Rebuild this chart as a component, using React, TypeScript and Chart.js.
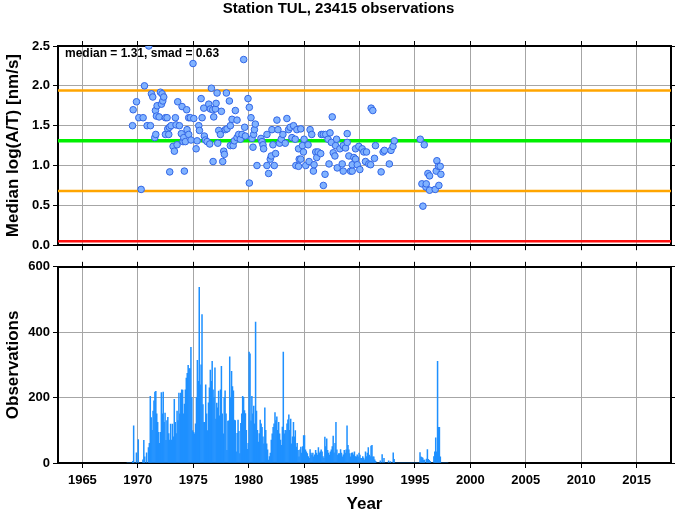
import React, { useEffect, useRef } from "react";
import { Chart, registerables } from "chart.js";

Chart.register(...registerables);

const FONT = "'Liberation Sans', Arial, Helvetica, sans-serif";
const GRID = "#a6a6a6";

const titleText = "Station TUL, 23415 observations";
const topYTitle = "Median log(A/T) [nm/s]";
const bottomYTitle = "Observations";
const xTitle = "Year";

const xMin = 1962.8;
const xMax = 2018.1;
const xTickYears = [1965, 1970, 1975, 1980, 1985, 1990, 1995, 2000, 2005, 2010, 2015];
const ampTicks = [0, 0.5, 1.0, 1.5, 2.0, 2.5];
const obsTicks = [0, 200, 400, 600];

const medianValue = 1.31;
const smadValue = 0.63;
const upperBound = 1.94;
const lowerBound = 0.68;
const floorLevel = 0.05;

const pointYears = [
  1969.52, 1969.58, 1969.88, 1970.09, 1970.3, 1970.48, 1970.6, 1970.84, 1970.99, 1971.14,
  1971.23, 1971.35, 1971.53, 1971.59, 1971.62, 1971.68, 1971.74, 1971.92, 1972.04, 1972.13,
  1972.19, 1972.25, 1972.34, 1972.49, 1972.49, 1972.64, 1972.7, 1972.79, 1972.85, 1972.88,
  1973.0, 1973.18, 1973.3, 1973.39, 1973.45, 1973.54, 1973.6, 1973.75, 1973.93, 1973.99,
  1974.08, 1974.14, 1974.2, 1974.29, 1974.41, 1974.44, 1974.59, 1974.59, 1974.74, 1974.8,
  1974.98, 1975.05, 1975.26, 1975.35, 1975.5, 1975.56, 1975.71, 1975.8, 1975.95, 1976.0,
  1976.1, 1976.25, 1976.4, 1976.49, 1976.55, 1976.64, 1976.76, 1976.79, 1976.85, 1977.0,
  1977.06, 1977.15, 1977.21, 1977.3, 1977.45, 1977.54, 1977.66, 1977.75, 1977.81, 1977.9,
  1977.99, 1978.05, 1978.26, 1978.35, 1978.35, 1978.5, 1978.6, 1978.71, 1978.8, 1978.95,
  1978.95, 1979.1, 1979.25, 1979.4, 1979.55, 1979.64, 1979.7, 1979.94, 1980.06, 1980.06,
  1980.21, 1980.3, 1980.39, 1980.45, 1980.52, 1980.6, 1980.75, 1981.11, 1981.2, 1981.29,
  1981.35, 1981.65, 1981.65, 1981.8, 1981.95, 1982.04, 1982.1, 1982.19, 1982.31, 1982.43,
  1982.55, 1982.64, 1982.79, 1982.94, 1983.09, 1983.3, 1983.45, 1983.6, 1983.75, 1983.9,
  1984.05, 1984.2, 1984.26, 1984.35, 1984.5, 1984.5, 1984.56, 1984.7, 1984.7, 1984.85,
  1984.94, 1985.0, 1985.15, 1985.36, 1985.45, 1985.54, 1985.69, 1985.84, 1985.9, 1986.05,
  1986.14, 1986.26, 1986.5, 1986.56, 1986.74, 1986.74, 1986.89, 1986.95, 1987.16, 1987.25,
  1987.34, 1987.46, 1987.54, 1987.63, 1987.78, 1987.84, 1987.93, 1987.99, 1988.23, 1988.44,
  1988.53, 1988.53, 1988.74, 1988.89, 1988.89, 1989.04, 1989.19, 1989.34, 1989.34, 1989.49,
  1989.64, 1989.64, 1989.8, 1989.94, 1990.03, 1990.24, 1990.39, 1990.54, 1990.63, 1990.84,
  1991.0, 1991.05, 1991.2, 1991.35, 1991.44, 1991.95, 1992.13, 1992.25, 1992.69, 1992.84,
  1993.02, 1993.14, 1995.48, 1995.63, 1995.72, 1995.84, 1995.99, 1996.02, 1996.17, 1996.32,
  1996.32, 1996.83, 1996.92, 1996.98, 1997.13, 1997.16, 1997.28, 1997.34,
];

const pointValues = [
  1.5, 1.7, 1.8, 1.6, 0.7, 1.6, 2.0, 1.5, 2.5, 1.5,
  1.9, 1.86, 1.35, 1.69, 1.39, 1.62, 1.75, 1.61, 1.92, 1.77,
  1.9, 1.81, 1.86, 1.6, 1.39, 1.6, 1.46, 1.39, 1.48, 0.92,
  1.5, 1.24, 1.18, 1.6, 1.51, 1.26, 1.8, 1.5, 1.4, 1.74,
  1.3, 1.35, 0.93, 1.3, 1.7, 1.45, 1.6, 1.39, 1.6, 1.32,
  2.28, 1.59, 1.21, 1.31, 1.5, 1.44, 1.84, 1.6, 1.72, 1.37,
  1.32, 1.3, 1.77, 1.27, 1.71, 1.97, 1.7, 1.05, 1.61, 1.71,
  1.78, 1.91, 1.28, 1.44, 1.39, 1.68, 1.05, 1.18, 1.14, 1.45,
  1.91, 1.46, 1.81, 1.5, 1.25, 1.58, 1.25, 1.31, 1.69, 1.57,
  1.35, 1.39, 1.33, 1.39, 2.33, 1.48, 1.37, 1.84, 1.73, 0.78,
  1.6, 1.34, 1.23, 1.39, 1.45, 1.52, 1.0, 1.34, 1.3, 1.26,
  1.21, 1.39, 1.0, 0.9, 1.08, 1.12, 1.45, 1.26, 1.0, 1.15,
  1.57, 1.45, 1.28, 1.33, 1.39, 1.28, 1.59, 1.45, 1.48, 1.35,
  1.5, 1.33, 1.0, 1.45, 1.21, 0.99, 1.08, 1.46, 1.08, 1.25,
  1.17, 1.33, 1.0, 1.26, 1.05, 1.45, 1.39, 0.93, 1.01, 1.17,
  1.1, 1.17, 1.15, 1.39, 1.39, 0.75, 0.89, 1.39, 1.33, 1.02,
  1.41, 1.29, 1.61, 1.16, 1.12, 1.25, 1.33, 0.97, 1.21, 1.02,
  0.93, 1.25, 1.22, 1.4, 1.29, 1.12, 0.93, 0.93, 1.01, 1.1,
  1.21, 1.08, 1.01, 1.24, 0.95, 1.21, 1.17, 1.05, 1.17, 1.02,
  1.01, 1.72, 1.69, 1.09, 1.25, 0.92, 1.17, 1.19, 1.02, 1.19,
  1.24, 1.31, 1.33, 0.77, 0.49, 1.26, 0.73, 0.77, 0.9, 0.87,
  0.69, 0.7, 0.93, 1.06, 0.99, 0.75, 0.99, 0.89,
];

// Monthly observation counts, January..December, starting in obsStartYear
const obsStartYear = 1969;
const monthlyObs = [
  [0, 0, 0, 0, 0, 0, 5, 114, 0, 0, 31, 0],
  [72, 0, 0, 0, 0, 10, 69, 19, 0, 31, 0, 47],
  [60, 204, 139, 100, 159, 190, 217, 219, 150, 124, 94, 60],
  [94, 215, 150, 217, 124, 153, 69, 130, 140, 90, 70, 119],
  [70, 119, 80, 195, 124, 90, 159, 130, 214, 150, 214, 224],
  [223, 150, 180, 224, 260, 274, 299, 289, 289, 354, 200, 99],
  [94, 89, 120, 200, 314, 250, 537, 239, 300, 454, 179, 124],
  [124, 239, 150, 99, 184, 230, 284, 250, 311, 224, 200, 291],
  [134, 183, 169, 220, 144, 224, 296, 150, 89, 200, 221, 150],
  [39, 128, 129, 325, 200, 280, 234, 221, 131, 130, 34, 91],
  [131, 97, 29, 121, 150, 204, 201, 160, 151, 100, 42, 60],
  [339, 334, 129, 204, 150, 174, 120, 431, 159, 100, 64, 90],
  [131, 120, 109, 80, 59, 169, 100, 59, 40, 9, 20, 30],
  [70, 89, 109, 120, 154, 130, 141, 100, 124, 89, 70, 54],
  [110, 339, 89, 100, 99, 120, 132, 147, 100, 134, 59, 80],
  [124, 80, 99, 49, 60, 39, 19, 40, 49, 30, 50, 84],
  [84, 40, 34, 29, 20, 14, 41, 30, 24, 30, 19, 25],
  [39, 30, 24, 47, 30, 34, 40, 34, 20, 14, 79, 50],
  [74, 39, 30, 24, 34, 40, 50, 82, 31, 60, 124, 40],
  [24, 29, 29, 41, 30, 19, 25, 39, 30, 40, 114, 54],
  [40, 29, 19, 30, 31, 25, 34, 20, 19, 25, 19, 30],
  [24, 14, 14, 20, 15, 10, 34, 20, 30, 47, 24, 20],
  [52, 54, 19, 19, 10, 5, 0, 0, 0, 0, 7, 0],
  [26, 0, 14, 0, 0, 0, 0, 7, 0, 4, 0, 0],
  [31, 11, 0, 0, 0, 0, 0, 0, 0, 0, 0, 0],
  [0, 0, 0, 0, 0, 0, 0, 0, 0, 0, 0, 0],
  [0, 0, 0, 0, 0, 32, 19, 17, 15, 9, 9, 0],
  [12, 41, 11, 8, 5, 0, 0, 0, 20, 34, 77, 34],
  [311, 109, 109, 19, 0, 0, 0, 0, 0, 0, 0, 0],
];

const tickFont = { family: FONT, size: 13, weight: "bold" as const };
const axisTitleFont = { family: FONT, size: 17, weight: "bold" as const };

const fixedSize = (prop: "width" | "height", size: number) => (scale: any) => {
  scale[prop] = size;
};
const setTicks = (values: number[]) => (scale: any) => {
  scale.ticks = values.map((v) => ({ value: v }));
};
const frameBorder = { display: true, color: "#000", width: 2 };

const statsLabel = {
  id: "statsLabel",
  afterDatasetsDraw(chart: any) {
    const { ctx, chartArea } = chart;
    ctx.save();
    ctx.font = `bold 12px ${FONT}`;
    ctx.fillStyle = "#000";
    ctx.textBaseline = "middle";
    ctx.textAlign = "left";
    ctx.fillText(
      `median = ${medianValue.toFixed(2)}, smad = ${smadValue.toFixed(2)}`,
      chartArea.left + 7,
      chartArea.top + 8
    );
    ctx.restore();
  },
};

function hLine(value: number, color: string, width: number) {
  return {
    type: "line" as const,
    data: [
      { x: xMin, y: value },
      { x: xMax, y: value },
    ],
    borderColor: color,
    borderWidth: width,
    pointRadius: 0,
    showLine: true,
    fill: false,
  };
}

function xAxes(bottomHeight: number, showLabels: boolean) {
  return {
    x: {
      type: "linear" as const,
      position: "bottom" as const,
      min: xMin,
      max: xMax,
      offset: false,
      afterBuildTicks: setTicks(xTickYears),
      afterFit: fixedSize("height", bottomHeight),
      grid: { offset: false, color: GRID, lineWidth: 1, tickColor: "#000", tickLength: 5, drawTicks: true },
      border: frameBorder,
      ticks: {
        display: showLabels,
        font: tickFont,
        color: "#000",
        padding: 5,
        autoSkip: false,
        maxRotation: 0,
        callback: (v: any) => String(v),
      },
      title: {
        display: showLabels,
        text: xTitle,
        font: axisTitleFont,
        color: "#000",
        padding: { top: 0, bottom: -4 },
      },
    },
    xTop: {
      type: "linear" as const,
      position: "top" as const,
      min: xMin,
      max: xMax,
      offset: false,
      afterBuildTicks: setTicks(xTickYears),
      afterFit: fixedSize("height", 6),
      grid: { offset: false, drawOnChartArea: false, tickColor: "#000", tickLength: 5 },
      border: frameBorder,
      ticks: { display: false },
    },
  };
}

function yAxes(min: number, max: number, ticks: number[], title: string, fmt: (v: number) => string) {
  return {
    y: {
      type: "linear" as const,
      position: "left" as const,
      min,
      max,
      afterBuildTicks: setTicks(ticks),
      afterFit: fixedSize("width", 58),
      grid: { color: GRID, lineWidth: 1, tickColor: "#000", tickLength: 5 },
      border: frameBorder,
      ticks: { font: tickFont, color: "#000", padding: 3, callback: (v: any) => fmt(Number(v)) },
      title: { display: true, text: title, font: axisTitleFont, color: "#000", padding: { top: 3, bottom: 0 } },
    },
    yRight: {
      type: "linear" as const,
      position: "right" as const,
      min,
      max,
      afterBuildTicks: setTicks(ticks),
      afterFit: fixedSize("width", 6),
      grid: { drawOnChartArea: false, tickColor: "#000", tickLength: 4 },
      border: frameBorder,
      ticks: { display: false },
    },
  };
}

export default function App() {
  const topRef = useRef<HTMLCanvasElement>(null);
  const botRef = useRef<HTMLCanvasElement>(null);

  useEffect(() => {
    Chart.defaults.font.family = FONT;
    Chart.defaults.color = "#000";

    const scatterData = pointYears.map((x, i) => ({ x, y: pointValues[i] }));
    const barData: { x: number; y: number }[] = [];
    monthlyObs.forEach((months, yi) => {
      months.forEach((count, mi) => {
        barData.push({ x: obsStartYear + yi + (mi + 0.5) / 12, y: count });
      });
    });

    const topChart = new Chart(topRef.current as HTMLCanvasElement, {
      type: "scatter",
      data: {
        datasets: [
          {
            data: scatterData,
            pointRadius: 3.3,
            pointBackgroundColor: "#80b2ff",
            pointBorderColor: "#3266e6",
            pointBorderWidth: 1,
            showLine: false,
          } as any,
          hLine(upperBound, "#ffa500", 2.5),
          hLine(medianValue, "#00f000", 3.5),
          hLine(lowerBound, "#ffa500", 2.5),
          hLine(floorLevel, "#ff1010", 2.5),
        ],
      },
      options: {
        animation: false,
        responsive: false,
        maintainAspectRatio: false,
        devicePixelRatio: 1,
        layout: { padding: 0 },
        plugins: {
          legend: { display: false },
          tooltip: { enabled: false },
          title: {
            display: true,
            text: titleText,
            font: { family: FONT, size: 15, weight: "bold" },
            color: "#000",
            padding: { top: 0, bottom: 22 },
          },
        },
        scales: {
          ...xAxes(9, false),
          ...yAxes(0, 2.5, ampTicks, topYTitle, (v) => v.toFixed(1)),
        } as any,
      },
      plugins: [statsLabel],
    });

    const botChart = new Chart(botRef.current as HTMLCanvasElement, {
      type: "bar",
      data: {
        datasets: [
          {
            data: barData,
            backgroundColor: "#1e90ff",
            borderWidth: 0,
            barThickness: 0.85,
            grouped: false,
          } as any,
        ],
      },
      options: {
        animation: false,
        responsive: false,
        maintainAspectRatio: false,
        devicePixelRatio: 1,
        layout: { padding: 0 },
        plugins: { legend: { display: false }, tooltip: { enabled: false } },
        scales: {
          ...xAxes(48, true),
          ...yAxes(0, 600, obsTicks, bottomYTitle, (v) => String(v)),
        } as any,
      },
    });

    return () => {
      topChart.destroy();
      botChart.destroy();
    };
  }, []);

  return (
    <div style={{ position: "absolute", left: 0, top: 0, width: 677, height: 511, background: "#fff" }}>
      <canvas ref={topRef} width={677} height={256} style={{ position: "absolute", left: 0, top: 0 }} />
      <canvas ref={botRef} width={677} height={255} style={{ position: "absolute", left: 0, top: 256 }} />
    </div>
  );
}
